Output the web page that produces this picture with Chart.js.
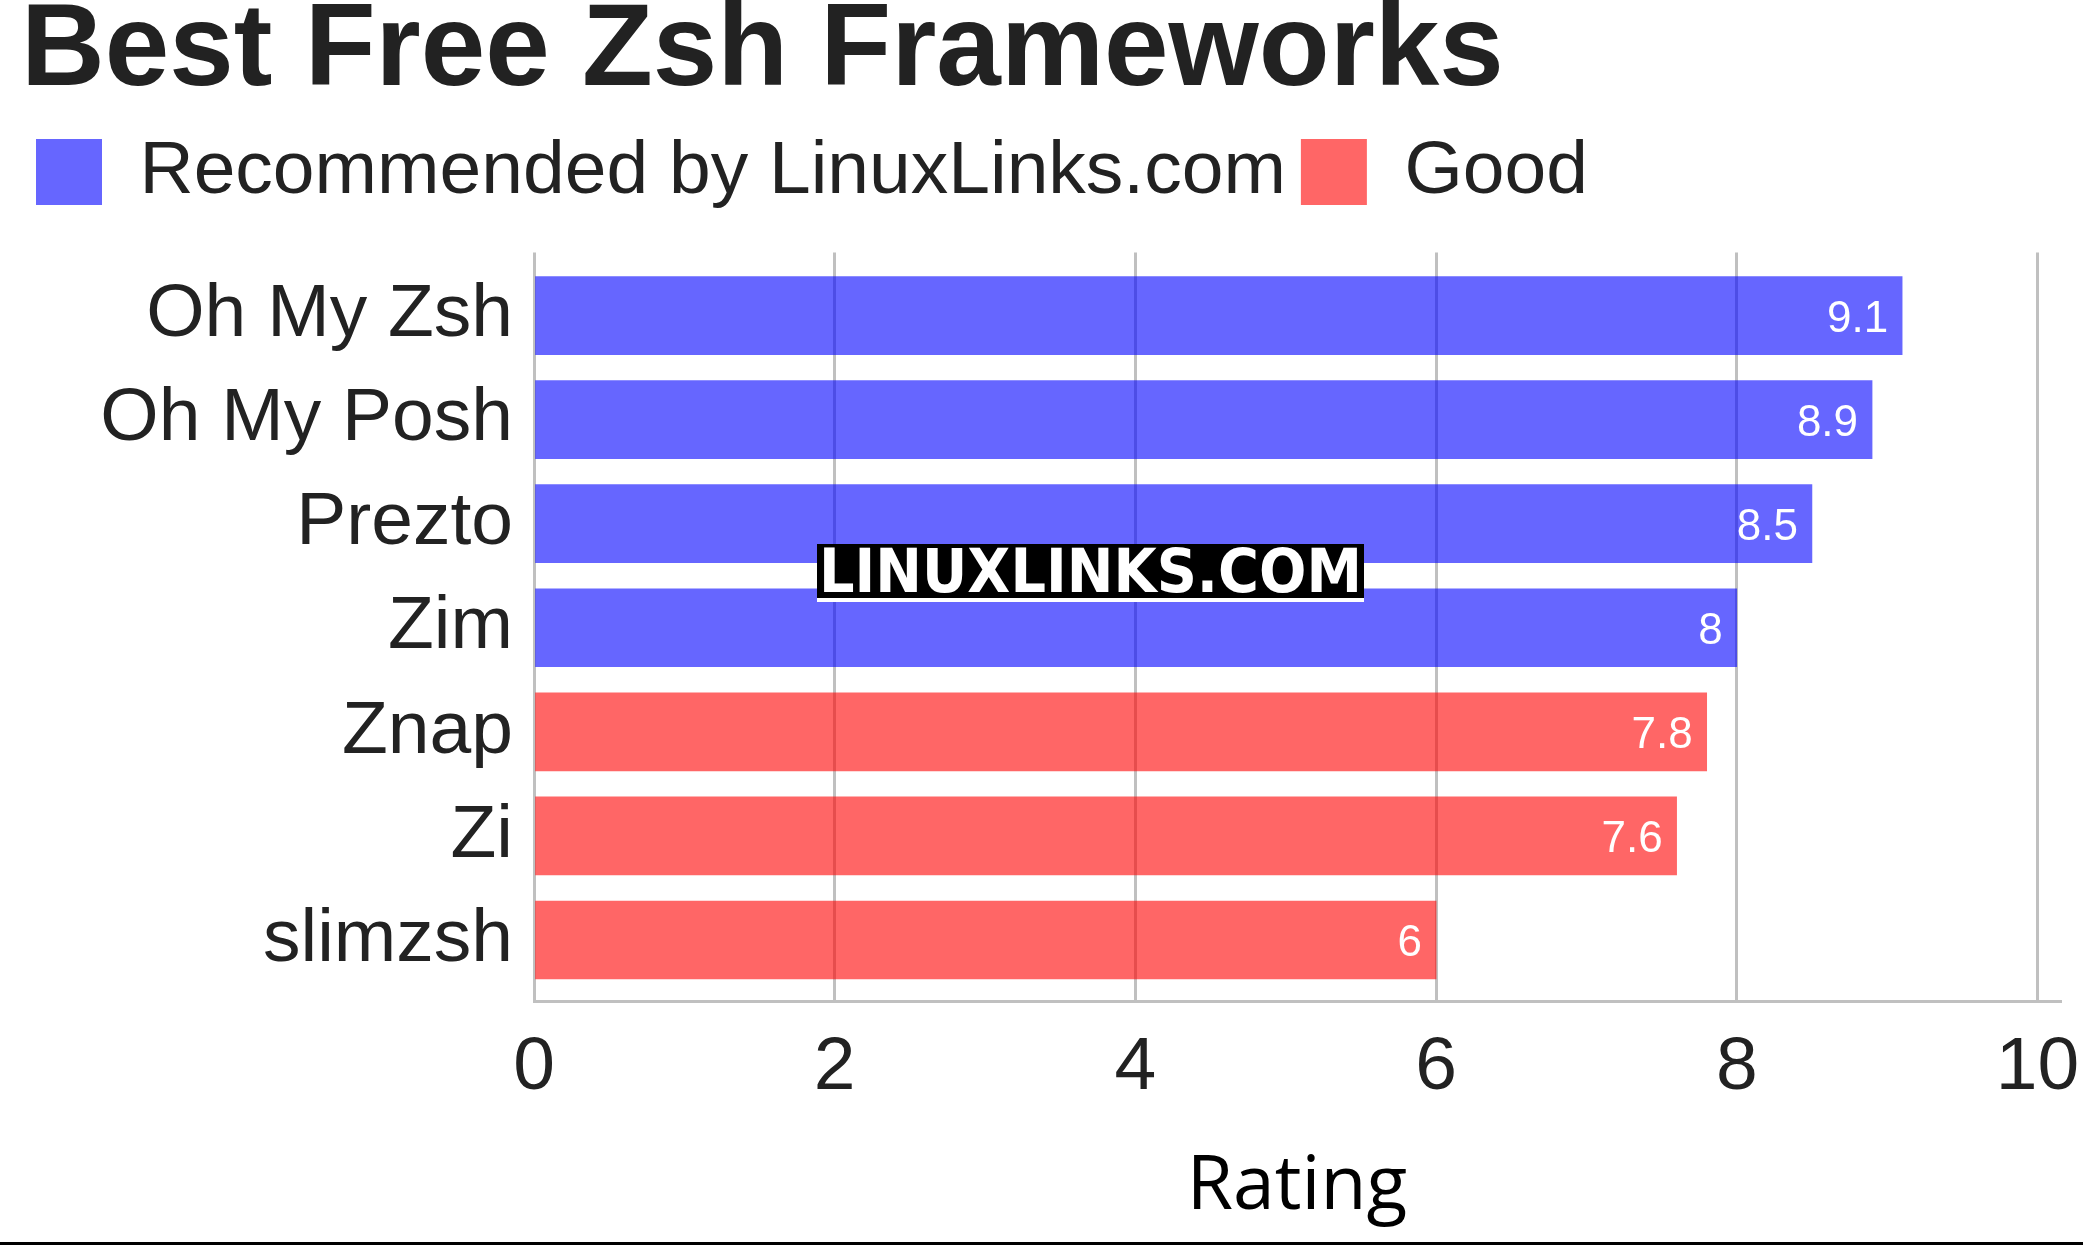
<!DOCTYPE html>
<html>
<head>
<meta charset="utf-8">
<title>Best Free Zsh Frameworks</title>
<script src="https://cdn.jsdelivr.net/npm/chart.js@4.4.0/dist/chart.umd.min.js"></script>
<style>
    html, body { margin: 0; padding: 0; background: #fff; }
    #wrap { position: relative; width: 2083px; height: 1242px; border-bottom: 3px solid #000; }
</style>
</head>
<body>
<div id="wrap"><canvas id="ratingChart"></canvas></div>
<script>
// Chart data
const categories = ['Oh My Zsh', 'Oh My Posh', 'Prezto', 'Zim', 'Znap', 'Zi', 'slimzsh'];
const recommended = [9.1, 8.9, 8.5, 8, null, null, null];
const good = [null, null, null, null, 7.8, 7.6, 6];
const xTicks = [0, 2, 4, 6, 8, 10];

Chart.defaults.font.family = "'Liberation Sans', Arial, sans-serif";
Chart.defaults.color = '#222';

// White value labels at the end of each bar
const valueLabels = {
    id: 'valueLabels',
    afterDatasetsDraw(chart) {
        const ctx = chart.ctx;
        ctx.save();
        ctx.font = "44px 'Liberation Sans', Arial, sans-serif";
        ctx.fillStyle = '#fff';
        ctx.textAlign = 'right';
        ctx.textBaseline = 'alphabetic';
        chart.data.datasets.forEach((ds, i) => {
            chart.getDatasetMeta(i).data.forEach((bar, j) => {
                const v = ds.data[j];
                if (v === null || v === undefined) return;
                ctx.fillText(String(v), bar.x - 14, bar.y + 16);
            });
        });
        ctx.restore();
    }
};

// Site watermark
const watermark = {
    id: 'watermark',
    afterDraw(chart) {
        const ctx = chart.ctx;
        const text = 'LINUXLINKS.COM';
        ctx.save();
        ctx.fillStyle = '#000';
        ctx.fillRect(817, 544, 547, 54);
        ctx.fillStyle = '#fff';
        ctx.fillRect(817, 598, 547, 4);
        ctx.font = "bold 60px 'DejaVu Sans', sans-serif";
        const w = ctx.measureText(text).width;
        ctx.translate(819, 592);
        ctx.scale(543 / w, 1);
        ctx.textBaseline = 'alphabetic';
        ctx.fillText(text, 0, 0);
        ctx.restore();
    }
};

new Chart(document.getElementById('ratingChart'), {
    type: 'bar',
    data: {
        labels: categories,
        datasets: [{
            label: 'Recommended by LinuxLinks.com',
            data: recommended,
            backgroundColor: 'rgba(0, 0, 255, 0.6)',
            grouped: false,
            barThickness: 78
        }, {
            label: 'Good',
            data: good,
            backgroundColor: 'rgba(255, 0, 0, 0.6)',
            grouped: false,
            barThickness: 78
        }]
    },
    options: {
        indexAxis: 'y',
        responsive: true,
        maintainAspectRatio: false,
        animation: false,
        layout: {
            padding: { left: 21, right: 23, top: 0, bottom: 0 }
        },
        plugins: {
            title: {
                display: true,
                text: 'Best Free Zsh Frameworks',
                align: 'start',
                color: '#222',
                font: { size: 116, weight: 'bold', lineHeight: 0.8 },
                padding: { top: 7, bottom: 19.7 }
            },
            legend: {
                display: true,
                position: 'top',
                align: 'start',
                labels: {
                    color: '#222',
                    font: { size: 75 },
                    boxWidth: 66,
                    boxHeight: 66,
                    padding: 15
                }
            },
            // empty subtitle used as a spacer between legend and plot
            subtitle: {
                display: true,
                text: '',
                weight: 500,
                font: { size: 33, lineHeight: 1 },
                padding: 0
            },
            tooltip: { enabled: false }
        },
        scales: {
            x: {
                type: 'linear',
                min: 0,
                max: 10.15,
                ticks: {
                    stepSize: 2,
                    padding: 22,
                    color: '#222',
                    font: { size: 75 }
                },
                afterBuildTicks: scale => {
                    scale.ticks = xTicks.map(v => ({ value: v }));
                },
                afterFit: scale => {
                    scale.paddingLeft = 0;
                    scale.paddingRight = 0;
                },
                grid: {
                    color: '#c0c0c0',
                    lineWidth: 3,
                    drawTicks: false
                },
                border: { display: true, color: '#c0c0c0', width: 3 },
                title: {
                    display: true,
                    text: 'Rating',
                    color: '#000',
                    font: { family: "'Open Sans', 'Noto Sans', sans-serif", size: 75 },
                    padding: { top: 8, bottom: 9 }
                }
            },
            y: {
                ticks: {
                    color: '#222',
                    font: { size: 75 },
                    padding: 21
                },
                afterBuildTicks: scale => {
                    // spread the categories a little inside the plot
                    scale._startValue = -0.6058;
                    scale._valueRange = 7.1923;
                },
                afterFit: scale => {
                    scale.width = 513;
                },
                grid: { display: false, drawTicks: false },
                border: { display: false }
            }
        }
    },
    plugins: [valueLabels, watermark]
});
</script>
</body>
</html>
